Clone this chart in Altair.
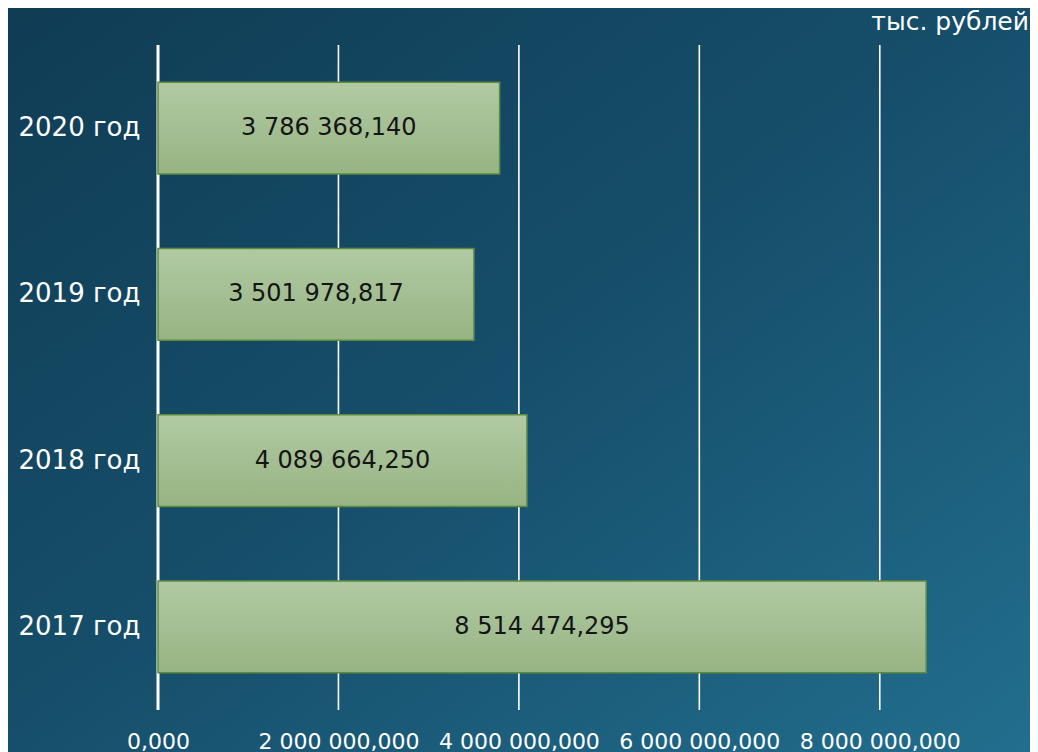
import altair as alt
import pandas as pd

years = ["2020 год", "2019 год", "2018 год", "2017 год"]
values = [3786368.140, 3501978.817, 4089664.250, 8514474.295]
tick_values = [0, 2000000, 4000000, 6000000, 8000000]
unit_label = "тыс. рублей"


def fmt(v):
    s = f"{v:,.3f}"
    return s.replace(",", " ").replace(".", ",")


df = pd.DataFrame({"year": years, "value": values})
df["mid"] = df["value"] / 2
df["label"] = [fmt(v) for v in values]
grid_df = pd.DataFrame({"v": tick_values})

W, H = 812, 665
PL, PT, PR, PB = 150, 37, 60, 42
FONT = "DejaVu Sans"

xscale = alt.Scale(domain=[0, 9000000], nice=False, zero=True)
yscale = alt.Scale(domain=years, paddingInner=0.447, paddingOuter=0.2235)

bg = alt.Chart(pd.DataFrame({"a": [0]})).mark_rect(
    clip=False,
    fill=alt.Gradient(
        gradient="linear",
        x1=0, y1=0, x2=1, y2=1,
        stops=[alt.GradientStop(offset=0, color="#103c54"),
               alt.GradientStop(offset=0.5, color="#164f6b"),
               alt.GradientStop(offset=1, color="#226e8e")],
    ),
).encode(
    x=alt.value(-PL), x2=alt.value(W + PR),
    y=alt.value(-PT), y2=alt.value(H + PB),
)

grid = alt.Chart(grid_df).mark_rule(color="white").encode(
    x=alt.X("v:Q", scale=xscale,
            axis=alt.Axis(values=tick_values, format=",.3f", title=None,
                          grid=False, domain=False, ticks=False,
                          labelColor="white", labelFontSize=22,
                          labelPadding=21, labelFont=FONT, zindex=1,
                          labelFlush=False, labelOverlap=False)),
    strokeWidth=alt.condition("datum.v == 0", alt.value(3), alt.value(1.6)),
)

bars = alt.Chart(df).mark_bar(
    fill=alt.Gradient(
        gradient="linear",
        x1=0, y1=0, x2=0, y2=1,
        stops=[alt.GradientStop(offset=0, color="#b1caa3"),
               alt.GradientStop(offset=1, color="#97b483")],
    ),
    stroke="#5e8a3e",
    strokeWidth=1.5,
).encode(
    x=alt.X("value:Q", scale=xscale),
    y=alt.Y("year:N", scale=yscale, sort=years,
            axis=alt.Axis(title=None, domain=False, ticks=False,
                          labelColor="white", labelFontSize=26,
                          labelPadding=18, labelFont=FONT, zindex=1)),
)

texts = alt.Chart(df).mark_text(
    fontSize=24, color="#151515", font=FONT
).encode(
    x=alt.X("mid:Q", scale=xscale),
    y=alt.Y("year:N", scale=yscale, sort=years),
    text="label:N",
)

unit = alt.Chart(pd.DataFrame({"t": [unit_label]})).mark_text(
    fontSize=25, color="white", align="right", baseline="middle",
    font=FONT, clip=False,
).encode(
    x=alt.value(W + PR - 1), y=alt.value(-23), text="t:N",
)

chart = alt.layer(bg, grid, bars, texts, unit).properties(
    width=W, height=H,
    padding={"left": PL, "top": PT, "right": PR, "bottom": PB},
    autosize=alt.AutoSizeParams(type="none"),
    background="#164f6b",
).configure_view(stroke=None).configure(font=FONT)

chart.save("out.html", embed_options={
    "renderer": "svg", "actions": False,
    "formatLocale": {"decimal": ",", "thousands": " ", "grouping": [3],
                     "currency": ["", ""]},
})
